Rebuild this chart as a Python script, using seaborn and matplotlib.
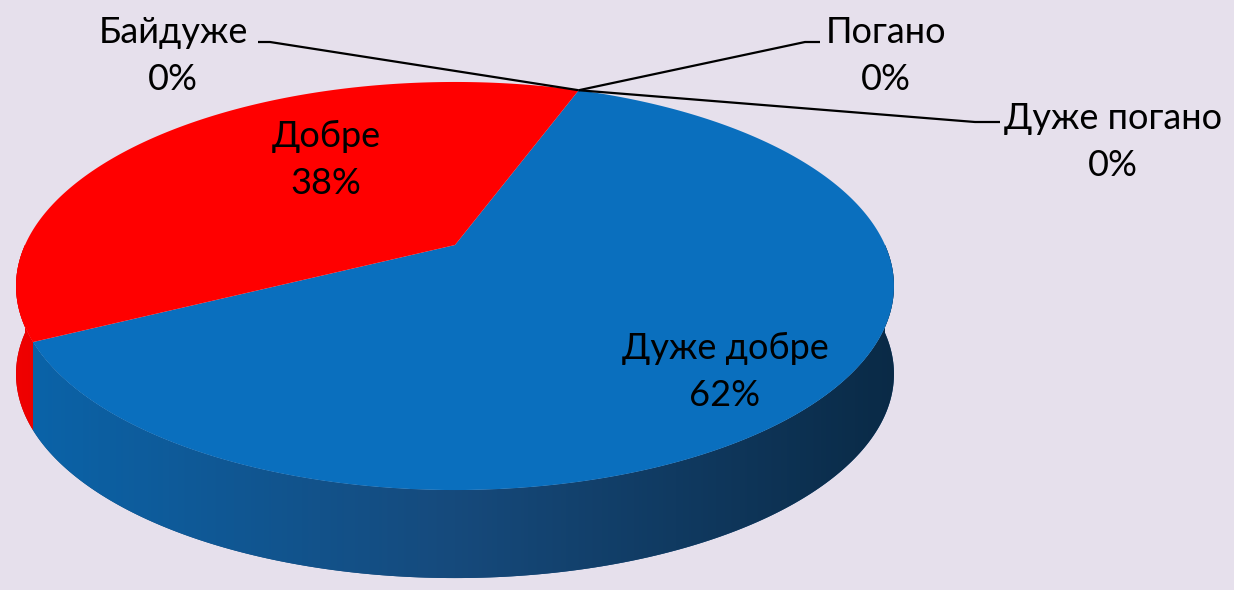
import numpy as np
import matplotlib
matplotlib.use("Agg")
import matplotlib.pyplot as plt
from matplotlib.patches import Polygon
from matplotlib.colors import LinearSegmentedColormap
import seaborn as sns

# ---- data ----
categories = ["Дуже добре", "Добре", "Байдуже", "Погано", "Дуже погано"]
values = [62, 38, 0, 0, 0]
pct_labels = ["62%", "38%", "0%", "0%", "0%"]
top_colors = ["#0A6FBE", "#FF0000", "#A5A5A5", "#FFC000", "#5B9BD5"]
side_colors = [["#0A64AA", "#164A7C", "#0A2A46"],
               ["#F00000", "#B00000", "#600000"],
               ["#888888", "#666666", "#444444"],
               ["#D9A300", "#A07800", "#604800"],
               ["#4A8AC0", "#3A6A90", "#203850"]]

sns.set_theme(style="white")
plt.rcParams["font.family"] = ["Lato", "DejaVu Sans"]

BG = "#E6E0EC"
W, H = 1234, 590
fig = plt.figure(figsize=(W / 100, H / 100), dpi=100, facecolor=BG)
ax = fig.add_axes([0, 0, 1, 1])
ax.set_facecolor(BG)
ax.set_xlim(0, W)
ax.set_ylim(H, 0)
ax.axis("off")

# perspective model of the pie disc
cx, cy, A, B, p, D = 455, 245, 430, 195.8, 0.201, 88


def proj(theta_deg, depth=0.0):
    t = np.radians(theta_deg)
    u, v = np.cos(t), np.sin(t)
    s = 1 + p * v
    return cx + A * u / s, cy - B * v / s + depth


start = 70.0
total = float(sum(values))
angles = []
a = start
for val in values:
    a2 = a - val / total * 360.0
    angles.append((a2, a))  # ccw range [a2, a]
    a = a2

# ---- side (front half, 180..360) ----
for i, (lo, hi) in enumerate(angles):
    if hi - lo <= 0:
        continue
    for k in (-1, 0, 1):
        l2, h2 = max(lo + 360 * k, 180), min(hi + 360 * k, 360)
        if h2 <= l2:
            continue
        th = np.linspace(l2, h2, 200)
        xt, yt = proj(th)
        xb, yb = proj(th, D)
        pts = np.column_stack([np.concatenate([xt, xb[::-1]]),
                               np.concatenate([yt, yb[::-1]])])
        poly = Polygon(pts, closed=True, facecolor=side_colors[i][1],
                       edgecolor="none", zorder=1)
        ax.add_patch(poly)
        cmap = LinearSegmentedColormap.from_list("s", side_colors[i])
        grad = np.linspace(0, 1, 400).reshape(1, -1)
        im = ax.imshow(grad, cmap=cmap, aspect="auto",
                       extent=[cx - A * 1.03, cx + A * 1.03, 600, 0], zorder=2)
        im.set_clip_path(poly)
ax.set_xlim(0, W)
ax.set_ylim(H, 0)

# ---- top face ----
for i, (lo, hi) in enumerate(angles):
    if hi - lo <= 0:
        continue
    th = np.linspace(lo, hi, 300)
    xs, ys = proj(th)
    ax.fill(np.concatenate([[cx], xs]), np.concatenate([[cy], ys]),
            color=top_colors[i], lw=0, zorder=3)

# ---- labels ----
fs = 26
label_pos = {"Дуже добре": (725, 372), "Добре": (326, 160),
             "Байдуже": (173, 56), "Погано": (886, 56),
             "Дуже погано": (1113, 142)}
for cat, pl in zip(categories, pct_labels):
    x, y = label_pos[cat]
    ax.text(x, y, f"{cat}\n{pl}", ha="center", va="center",
            multialignment="center", fontsize=fs, color="black",
            linespacing=1.5, zorder=5)

# leader lines for zero slices
px, py = proj(start)
leaders = {"Байдуже": [(270, 42), (258, 42)],
           "Погано": [(805, 42), (820, 42)],
           "Дуже погано": [(975, 122), (1000, 122)]}
for cat, pts in leaders.items():
    xs = [px] + [q[0] for q in pts]
    ys = [py] + [q[1] for q in pts]
    ax.plot(xs, ys, color="black", lw=1.6, zorder=4, solid_capstyle="butt")

fig.savefig("out.png", dpi=100, facecolor=BG)
